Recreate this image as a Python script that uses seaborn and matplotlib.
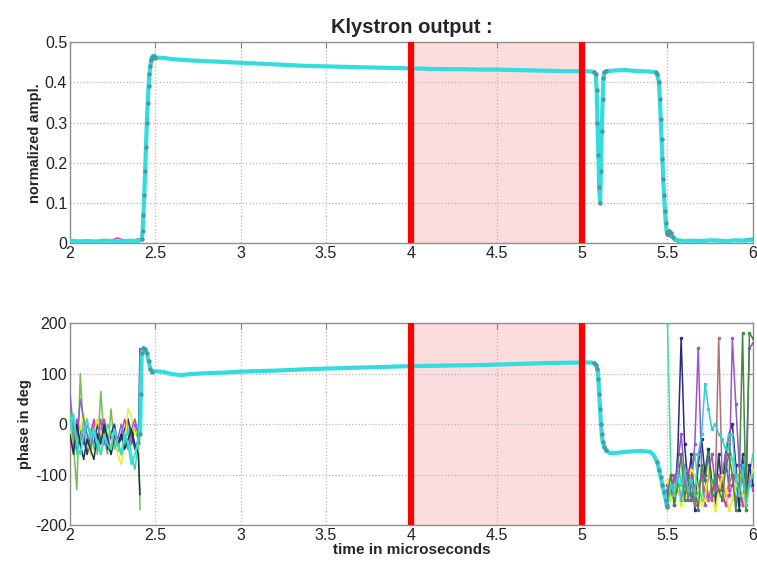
import matplotlib
matplotlib.use("Agg")
import matplotlib.pyplot as plt
import seaborn as sns
from matplotlib.ticker import FuncFormatter

# ---------------- data ----------------
xticks = [2, 2.5, 3, 3.5, 4, 4.5, 5, 5.5, 6]
amp_yticks = [0, 0.1, 0.2, 0.3, 0.4, 0.5]
ph_yticks = [-200, -100, 0, 100, 200]
window = [4.0, 5.0]

# main (cyan) amplitude trace
amp_t = [2.00, 2.05, 2.10, 2.15, 2.20, 2.25, 2.30, 2.35, 2.40, 2.42, 2.425, 2.43, 2.435, 2.44,
         2.445, 2.45, 2.455, 2.46, 2.465, 2.47, 2.475, 2.48, 2.49, 2.50, 2.55, 2.60, 2.70, 2.80,
         2.90, 3.00, 3.10, 3.20, 3.30, 3.40, 3.50, 3.60, 3.70, 3.80, 3.90, 4.00, 4.10, 4.20,
         4.30, 4.40, 4.50, 4.60, 4.70, 4.80, 4.90, 5.00, 5.04, 5.07, 5.08, 5.085, 5.09, 5.095,
         5.10, 5.105, 5.11, 5.115, 5.12, 5.125, 5.13, 5.14, 5.16, 5.20, 5.25, 5.30, 5.35, 5.40,
         5.43, 5.44, 5.45, 5.455, 5.46, 5.465, 5.47, 5.475, 5.48, 5.485, 5.49, 5.495, 5.50,
         5.51, 5.52, 5.53, 5.55, 5.60, 5.65, 5.70, 5.75, 5.80, 5.85, 5.90, 5.95, 6.00]
amp_v = [0.006, 0.004, 0.005, 0.004, 0.006, 0.005, 0.004, 0.006, 0.005, 0.010, 0.030, 0.070,
         0.120, 0.180, 0.240, 0.300, 0.350, 0.390, 0.420, 0.440, 0.455, 0.463, 0.467, 0.462,
         0.461, 0.458, 0.455, 0.453, 0.451, 0.449, 0.447, 0.445, 0.443, 0.441, 0.440, 0.439,
         0.438, 0.437, 0.436, 0.435, 0.434, 0.433, 0.433, 0.432, 0.432, 0.431, 0.430, 0.429,
         0.428, 0.428, 0.428, 0.426, 0.420, 0.380, 0.300, 0.220, 0.140, 0.100, 0.180, 0.280,
         0.360, 0.410, 0.425, 0.428, 0.429, 0.430, 0.431, 0.429, 0.428, 0.427, 0.425, 0.420,
         0.400, 0.360, 0.310, 0.260, 0.210, 0.160, 0.120, 0.080, 0.050, 0.028, 0.022, 0.030,
         0.026, 0.015, 0.008, 0.005, 0.006, 0.005, 0.007, 0.006, 0.005, 0.007, 0.006, 0.008]

# other amplitude traces (visible only in the noise regions)
amp_left_t = [2.00, 2.04, 2.08, 2.12, 2.16, 2.20, 2.24, 2.28, 2.32, 2.36, 2.40, 2.42]
amp_mag_left = [0.008, 0.004, 0.007, 0.003, 0.006, 0.009, 0.007, 0.013, 0.006, 0.005, 0.011, 0.006]
amp_navy_left = [0.004, 0.007, 0.003, 0.006, 0.004, 0.005, 0.008, 0.004, 0.007, 0.003, 0.006, 0.005]
amp_right_t = [5.50, 5.52, 5.54, 5.56, 5.60, 5.64, 5.68, 5.72, 5.76, 5.80, 5.84, 5.88, 5.92, 5.96, 6.00]
amp_navy_right = [0.020, 0.015, 0.006, 0.003, 0.006, 0.004, 0.007, 0.005, 0.008, 0.004, 0.006, 0.009, 0.005, 0.010, 0.012]
amp_mag_right = [0.025, 0.020, 0.010, 0.006, 0.004, 0.008, 0.005, 0.003, 0.006, 0.009, 0.004, 0.007, 0.004, 0.006, 0.008]

# main (cyan) phase trace
ph_t = [2.00, 2.02, 2.04, 2.06, 2.08, 2.10, 2.12, 2.14, 2.16, 2.18, 2.20, 2.22, 2.24, 2.26,
        2.28, 2.30, 2.32, 2.34, 2.36, 2.38, 2.40, 2.41, 2.415, 2.42, 2.43, 2.44, 2.45, 2.46,
        2.47, 2.48, 2.50, 2.55, 2.60, 2.65, 2.70, 2.80, 2.90, 3.00, 3.20, 3.40, 3.60, 3.80,
        4.00, 4.20, 4.40, 4.60, 4.80, 5.00, 5.05, 5.07, 5.08, 5.09, 5.095, 5.10, 5.105, 5.11,
        5.115, 5.12, 5.13, 5.14, 5.16, 5.20, 5.25, 5.30, 5.35, 5.40, 5.42, 5.44, 5.45, 5.46,
        5.47, 5.48, 5.49, 5.495, 5.50]
ph_v = [-10, 20, -40, -60, -20, 10, -30, -10, -40, -60, -20, -40, -50, -10, -40, -60, -20,
        -40, -80, -60, -30, -20, 60, 140, 150, 148, 140, 125, 110, 104, 105, 103, 99, 97, 99,
        101, 102, 104, 106, 109, 111, 113, 115, 116, 117, 119, 121, 122, 122, 121, 118, 110,
        90, 60, 30, 0, -20, -35, -45, -52, -57, -57, -55, -54, -53, -55, -62, -75, -90, -105,
        -120, -135, -150, -160, -165]
ph_pulse_start = 2.41  # noisy (thin) before, pulse (thick) after

# other phase traces, left noise region
ph_left_t = [2.00, 2.02, 2.04, 2.06, 2.08, 2.10, 2.12, 2.14, 2.16, 2.18, 2.20, 2.22, 2.24,
             2.26, 2.28, 2.30, 2.32, 2.34, 2.36, 2.38, 2.40, 2.41]
ph_left = {
    "#77bb55": [20, -40, -130, 100, -20, -60, -40, 0, -60, 65, -30, -60, 30, -40, -55, -20, -35, 10, -40, -10, -30, -170],
    "#dd33bb": [-30, -50, 10, -20, -40, 0, -20, 10, -30, -10, 10, -20, -60, -30, -45, -20, 10, -20, -40, 0, -20, -30],
    "#333399": [0, -20, -50, -10, -30, -60, -20, -40, 0, -30, -10, -50, -20, 0, -40, -30, -10, 10, -20, -50, -30, 150],
    "#eeee22": [-20, 10, -40, -10, 20, -30, -60, -20, 10, -20, -40, -10, -50, -20, -60, -80, -40, 30, 15, -20, -10, -30],
    "#33ddaa": [10, -20, -60, -30, 0, -40, -10, -50, -20, -60, -30, 0, -20, -50, -30, -60, -40, -10, -60, -90, -40, -20],
    "#8866cc": [60, -10, -30, 50, 10, -20, -50, -10, -30, 10, -40, -20, -60, -10, -30, 0, -30, -50, -10, 10, -20, -40],
    "#223344": [-20, -60, 0, -40, -70, -30, -50, -70, -20, -40, 0, -30, -60, -20, -40, -20, -50, -30, -10, -40, -60, -140],
}

# phase traces, right noise region
ph_right_t = [5.50, 5.52, 5.54, 5.56, 5.58, 5.60, 5.62, 5.64, 5.66, 5.68, 5.70, 5.72, 5.74,
              5.76, 5.78, 5.80, 5.82, 5.84, 5.86, 5.88, 5.90, 5.92, 5.94, 5.96, 5.98, 6.00]
ph_right = {
    "#44dd99": [200, -100, -150, -60, -120, -80, -150, -100, -60, -120, -150, -90, -50, -110, -140, -60, -120, -80, -40, -70, -120, -160, -100, -170, -100, -60],
    "#2a2a80": [-150, -120, -160, -60, 170, -40, -120, -60, -170, -80, -30, -100, -50, -120, -160, -60, -130, -60, -20, 0, -80, -170, -60, -150, -80, -120],
    "#9955cc": [-130, -100, -150, -80, -20, -100, -150, -120, -40, 150, -90, -160, -100, -60, -120, -140, -100, -60, -130, 170, 40, -80, -160, -100, 150, 160],
    "#b07070": [-120, -140, -110, -130, -150, -120, -100, -140, -160, -120, -110, -130, -150, -120, -130, 170, -110, -140, -120, -100, -150, -130, -110, -140, -120, -100],
    "#dd33cc": [-120, -140, -100, -130, -150, -110, -90, -120, -150, -130, -100, -110, -140, -150, -120, -100, -130, -160, -140, -120, -100, -130, -160, -150, -110, -130],
    "#eeee22": [-110, -150, -130, -120, -160, -140, -110, -90, -100, -130, -160, -150, -90, -120, -170, -140, -100, -130, -170, -150, -120, -100, -140, -170, -120, -90],
    "#448844": [-140, -100, -160, -120, -60, -150, -100, -150, -120, -170, -80, -110, -60, -140, -100, -130, -150, -90, -60, -100, -170, -120, 180, -170, 180, 170],
    "#33cccc": [-165, -120, -140, -100, -150, -90, -130, -110, -140, -60, -20, 80, 30, -10, 0, -20, -30, -50, -20, -20, -100, -140, -80, -160, -120, -100],
}

# ---------------- plotting ----------------
sns.set_style("white")
plt.rcParams["font.family"] = ["Liberation Sans", "DejaVu Sans"]

fig = plt.figure(figsize=(7.57, 5.64), dpi=100)
ax1 = fig.add_axes([0.0925, 0.569, 0.902, 0.356])
ax2 = fig.add_axes([0.0925, 0.069, 0.902, 0.358])

CYAN = "#33dddd"
DOT = "#4a9aa0"
GRID_C = "#b8b8b8"


def steep_points(t):
    # show sample dots only where the sampling is dense (the fast edges)
    idx = []
    for i in range(len(t)):
        prev_d = t[i] - t[i - 1] if i > 0 else 1
        next_d = t[i + 1] - t[i] if i < len(t) - 1 else 1
        if min(prev_d, next_d) < 0.011:
            idx.append(i)
    return idx


def style(ax, yticks, ylim, ylabel):
    ax.set_xlim(2, 6)
    ax.set_ylim(*ylim)
    ax.set_xticks(xticks)
    ax.set_yticks(yticks)
    ax.xaxis.set_major_formatter(FuncFormatter(lambda v, p: f"{v:g}"))
    ax.yaxis.set_major_formatter(FuncFormatter(lambda v, p: f"{v:g}"))
    ax.grid(True, ls=":", color=GRID_C, lw=0.9)
    ax.tick_params(direction="in", top=True, right=True, length=4, width=0.8,
                   color="#808080", labelsize=11.5, labelcolor="#222222", pad=2)
    for s in ax.spines.values():
        s.set_color("#909090")
        s.set_linewidth(1.0)
    ax.set_ylabel(ylabel, fontsize=10.5, fontweight="bold", labelpad=2)
    ax.set_xlabel("")
    ax.axvspan(window[0], window[1], color="#fcdcdc", zorder=0, lw=0)
    for w in window:
        ax.axvline(w, color="#ff0000", lw=4.5, zorder=10)


# amplitude
for t, v, c in [(amp_left_t, amp_mag_left, "#dd33bb"), (amp_left_t, amp_navy_left, "#333399"),
                (amp_right_t, amp_navy_right, "#333399"), (amp_right_t, amp_mag_right, "#9955cc")]:
    sns.lineplot(x=t, y=v, ax=ax1, color=c, lw=1.0, sort=False, estimator=None, zorder=3)
sns.lineplot(x=amp_t, y=amp_v, ax=ax1, color=CYAN, lw=3.0, sort=False, estimator=None,
             marker="o", markersize=2.4, markerfacecolor=DOT, markeredgecolor=DOT,
             markevery=steep_points(amp_t), zorder=5)
style(ax1, amp_yticks, (0, 0.5), "normalized ampl.")
ax1.set_title("Klystron output :", fontsize=14.5, fontweight="bold", pad=7)

# phase
for c, v in ph_left.items():
    sns.lineplot(x=ph_left_t, y=v, ax=ax2, color=c, lw=1.1, sort=False, estimator=None, zorder=3)
for c, v in ph_right.items():
    sns.lineplot(x=ph_right_t, y=v, ax=ax2, color=c, lw=1.1, sort=False, estimator=None,
                 marker="o", markersize=1.8, markeredgecolor=c, zorder=3)
k = ph_t.index(ph_pulse_start)
sns.lineplot(x=ph_t[:k + 1], y=ph_v[:k + 1], ax=ax2, color=CYAN, lw=1.4, sort=False,
             estimator=None, zorder=4)
pulse_t, pulse_v = ph_t[k:], ph_v[k:]
sns.lineplot(x=pulse_t, y=pulse_v, ax=ax2, color=CYAN, lw=3.0, sort=False, estimator=None,
             marker="o", markersize=2.4, markerfacecolor=DOT, markeredgecolor=DOT,
             markevery=steep_points(pulse_t), zorder=5)
style(ax2, ph_yticks, (-200, 200), "phase in deg")
ax2.set_xlabel("time in microseconds", fontsize=11, fontweight="bold", labelpad=0)

fig.savefig("out.png", dpi=100)
